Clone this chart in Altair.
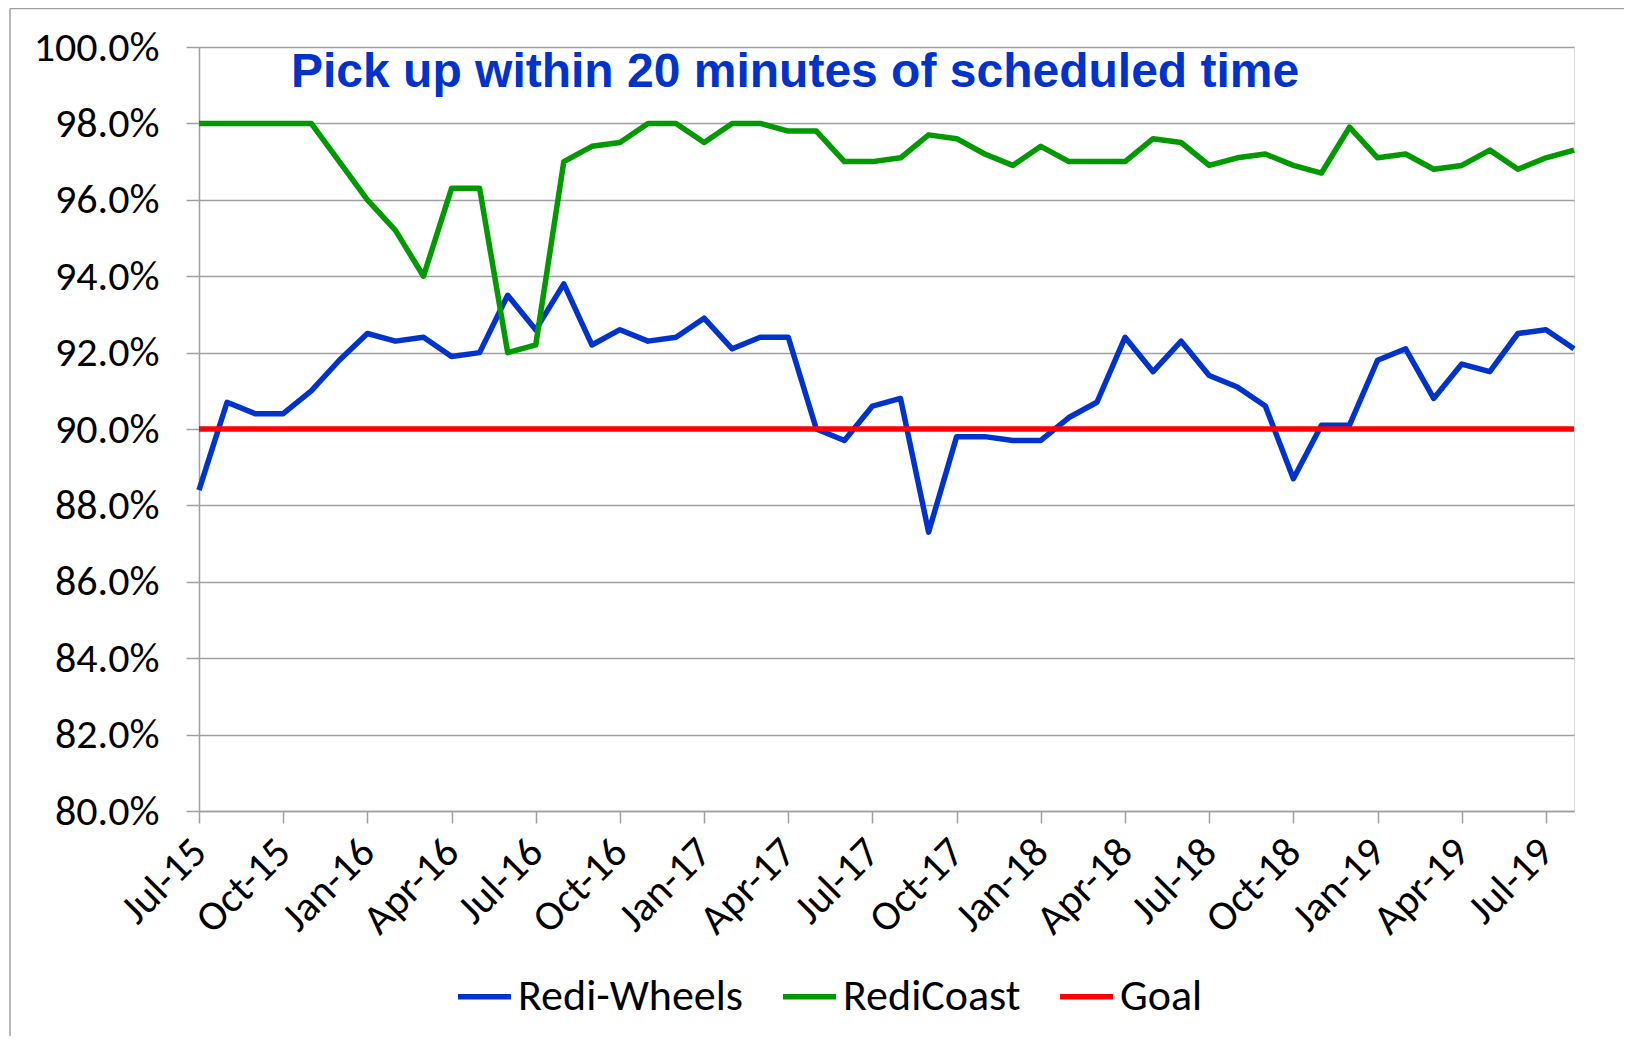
import altair as alt
import pandas as pd

months = [
    "Jul-15", "Aug-15", "Sep-15", "Oct-15", "Nov-15", "Dec-15",
    "Jan-16", "Feb-16", "Mar-16", "Apr-16", "May-16", "Jun-16",
    "Jul-16", "Aug-16", "Sep-16", "Oct-16", "Nov-16", "Dec-16",
    "Jan-17", "Feb-17", "Mar-17", "Apr-17", "May-17", "Jun-17",
    "Jul-17", "Aug-17", "Sep-17", "Oct-17", "Nov-17", "Dec-17",
    "Jan-18", "Feb-18", "Mar-18", "Apr-18", "May-18", "Jun-18",
    "Jul-18", "Aug-18", "Sep-18", "Oct-18", "Nov-18", "Dec-18",
    "Jan-19", "Feb-19", "Mar-19", "Apr-19", "May-19", "Jun-19",
    "Jul-19", "Aug-19",
]

redi_wheels = [
    88.4, 90.7, 90.4, 90.4, 91.0, 91.8,
    92.5, 92.3, 92.4, 91.9, 92.0, 93.5,
    92.6, 93.8, 92.2, 92.6, 92.3, 92.4,
    92.9, 92.1, 92.4, 92.4, 90.0, 89.7,
    90.6, 90.8, 87.3, 89.8, 89.8, 89.7,
    89.7, 90.3, 90.7, 92.4, 91.5, 92.3,
    91.4, 91.1, 90.6, 88.7, 90.1, 90.1,
    91.8, 92.1, 90.8, 91.7, 91.5, 92.5,
    92.6, 92.1,
]

redicoast = [
    98.0, 98.0, 98.0, 98.0, 98.0, 97.0,
    96.0, 95.2, 94.0, 96.3, 96.3, 92.0,
    92.2, 97.0, 97.4, 97.5, 98.0, 98.0,
    97.5, 98.0, 98.0, 97.8, 97.8, 97.0,
    97.0, 97.1, 97.7, 97.6, 97.2, 96.9,
    97.4, 97.0, 97.0, 97.0, 97.6, 97.5,
    96.9, 97.1, 97.2, 96.9, 96.7, 97.9,
    97.1, 97.2, 96.8, 96.9, 97.3, 96.8,
    97.1, 97.3,
]

goal_value = 90.0
goal = [goal_value for _ in months]

series_names = ["Redi-Wheels", "RediCoast", "Goal"]
series_colors = ["#0033CC", "#009900", "#FF0000"]
y_ticks = [80, 82, 84, 86, 88, 90, 92, 94, 96, 98, 100]
x_ticks = months[::3]
title_text = "Pick up within 20 minutes of scheduled time"

rows = []
for name, vals in zip(series_names, [redi_wheels, redicoast, goal]):
    for m, v in zip(months, vals):
        rows.append({"month": m, "value": v, "series": name})
df = pd.DataFrame(rows)

FONT = "Carlito, Lato"
FS = 42

x_enc = alt.X(
    "month:O",
    sort=months,
    scale=alt.Scale(type="point", padding=0),
    axis=alt.Axis(
        title=None,
        values=x_ticks,
        labelAngle=-45,
        labelAlign="right",
        labelBaseline="middle",
        labelFont=FONT,
        labelFontSize=FS,
        labelColor="#000000",
        labelPadding=22,
        labelLimit=400,
        tickSize=12,
        tickColor="#A0A0A0",
        tickWidth=1.5,
        domainColor="#A0A0A0",
        domainWidth=1.5,
        grid=False,
    ),
)
y_enc = alt.Y(
    "value:Q",
    scale=alt.Scale(domain=[80, 100], nice=False, zero=False),
    axis=alt.Axis(
        title=None,
        values=y_ticks,
        labelExpr="format(datum.value, '.1f') + '%'",
        labelFont=FONT,
        labelFontSize=FS,
        labelColor="#000000",
        labelPadding=27,
        labelLimit=400,
        tickSize=13,
        tickColor="#A0A0A0",
        tickWidth=1.5,
        domainColor="#A0A0A0",
        domainWidth=1.5,
        grid=True,
        gridColor="#A0A0A0",
        gridWidth=1.5,
    ),
)
color_enc = alt.Color(
    "series:N",
    scale=alt.Scale(domain=series_names, range=series_colors),
    title=None,
    legend=alt.Legend(
        orient="none",
        legendX=256,
        legendY=920,
        direction="horizontal",
        symbolType="stroke",
        symbolStrokeWidth=5.5,
        symbolSize=2809,
        labelFont=FONT,
        labelFontSize=44,
        labelColor="#000000",
        labelOffset=4,
        labelLimit=400,
        columnPadding=28,
    ),
)

layers = []
for name in series_names:
    layers.append(
        alt.Chart(df)
        .transform_filter(alt.datum.series == name)
        .mark_line(strokeWidth=5.5, strokeJoin="round")
        .encode(x=x_enc, y=y_enc, color=color_enc)
    )

title_df = pd.DataFrame({"t": [title_text]})
title_layer = alt.Chart(title_df).mark_text(
    align="left",
    baseline="alphabetic",
    font="Liberation Sans",
    fontWeight="bold",
    fontSize=48,
    color="#0033CC",
).encode(text="t:N", x=alt.value(92), y=alt.value(40))

border_df = pd.DataFrame({"b": [0]})
border_left = alt.Chart(border_df).mark_rule(color="#A0A0A0", strokeWidth=1.5).encode(
    x=alt.value(-189), y=alt.value(-38.5), y2=alt.value(1100)
)
border_top = alt.Chart(border_df).mark_rule(color="#A0A0A0", strokeWidth=1.5).encode(
    x=alt.value(-189), x2=alt.value(1500), y=alt.value(-38.5)
)

chart = (
    alt.layer(border_left, border_top, *layers, title_layer)
    .properties(
        width=1375,
        height=764,
        autosize=alt.AutoSizeParams(type="none"),
        padding={"left": 191, "top": 39, "right": 50, "bottom": 225},
    )
    .configure_view(stroke="transparent", strokeWidth=0)
    .configure(background="#FFFFFF")
)

chart.save("out.html", embed_options={"renderer": "svg", "actions": False})
